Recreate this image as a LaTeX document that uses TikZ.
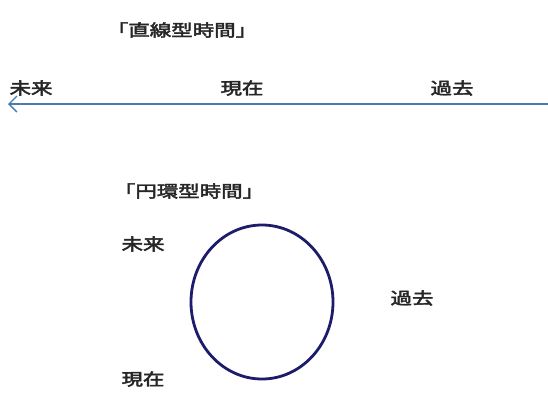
\documentclass[tikz,border=0pt]{standalone}
\usepackage{fontspec}
\newfontfamily\cjk[FakeBold=2.5]{Noto Sans CJK JP}
\usetikzlibrary{arrows.meta}
\definecolor{arrowblue}{HTML}{4A7AB0}
\definecolor{navy}{HTML}{1C1C6A}
\begin{document}
\begin{tikzpicture}[x=1pt,y=-1pt,
  lbl/.style={font=\cjk\fontsize{16.5}{16.5}\selectfont, text=black!85, inner sep=0pt, xscale=1.3}]
\useasboundingbox (0,0) rectangle (548,392);
\fill[white] (0,0) rectangle (548,392);
% linear time
\node[lbl] (t1) at (182,30) {「直線型時間」};
\node[lbl] (f1) at (31,88) {未来};
\node[lbl] (n1) at (242,88) {現在};
\node[lbl] (p1) at (452,88) {過去};
\coordinate (aS) at (548,104);
\coordinate (aE) at (8,104);
\draw[arrowblue, line width=1.8pt, -{Straight Barb[length=8pt,width=16pt,line width=1.4pt]}] (aS) -- (aE);
% circular time
\node[lbl] (t2) at (189,191) {「円環型時間」};
\node[lbl] (f2) at (143,244) {未来};
\node[lbl] (p2) at (412,298) {過去};
\node[lbl] (n2) at (143,379) {現在};
\draw[navy, line width=2.8pt] (262,302) ellipse [x radius=71, y radius=77];
\end{tikzpicture}
\end{document}
